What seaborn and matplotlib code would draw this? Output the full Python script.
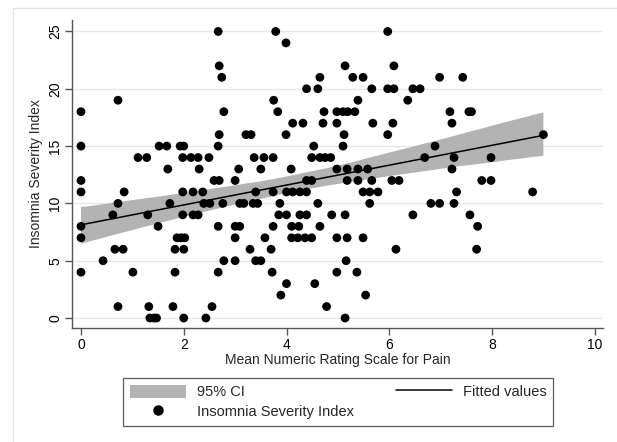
import numpy as np
import pandas as pd
import matplotlib
matplotlib.use("Agg")
import matplotlib.pyplot as plt
import seaborn as sns
from matplotlib.patches import Patch
from matplotlib.lines import Line2D

# ISI value -> list of mean NRS values
isi_levels = [25, 24, 22, 21, 20, 19, 18, 17, 16, 15, 14, 13, 12, 11, 10, 9, 8, 7, 6, 5, 4, 3, 2, 1, 0]
nrs_25 = [2.67, 3.79, 5.97]
nrs_24 = [3.99]
nrs_22 = [2.69, 5.14, 6.09]
nrs_21 = [2.74, 4.65, 5.29, 5.49, 6.98, 7.43]
nrs_20 = [4.39, 4.61, 5.66, 5.97, 6.09, 6.46, 6.6]
nrs_19 = [0.72, 3.75, 5.39, 6.36]
nrs_18 = [0.0, 2.78, 3.83, 4.73, 4.98, 5.10, 5.19, 5.33, 7.18, 7.55, 7.6]
nrs_17 = [4.12, 4.32, 4.71, 4.98, 5.68, 6.07, 7.22]
nrs_16 = [2.69, 3.21, 3.31, 3.99, 5.12, 5.97, 9.0]
nrs_15 = [0.0, 1.52, 1.67, 1.93, 2.0, 2.67, 4.53, 5.1, 6.89]
nrs_14 = [1.11, 1.28, 1.98, 2.14, 2.28, 2.49, 3.37, 3.56, 3.74, 4.49, 4.65, 4.75, 4.86, 6.69, 7.26, 7.98]
nrs_13 = [1.69, 2.3, 3.07, 3.5, 4.09, 4.98, 5.18, 5.39, 5.58, 7.22]
nrs_12 = [0.0, 2.59, 2.69, 3.0, 4.39, 4.49, 5.18, 5.39, 5.66, 6.05, 6.19, 7.8, 7.98]
nrs_11 = [0.0, 0.84, 1.98, 2.18, 2.37, 3.4, 3.74, 4.0, 4.12, 4.26, 4.39, 5.49, 5.62, 5.78, 7.31, 8.79]
nrs_10 = [0.72, 1.73, 2.39, 2.51, 2.76, 3.09, 3.17, 3.35, 3.44, 3.87, 4.61, 5.62, 6.81, 6.98, 7.26]
nrs_9 = [0.62, 1.3, 1.98, 2.18, 2.28, 3.85, 4.0, 4.26, 4.39, 4.88, 5.14, 6.46, 7.57]
nrs_8 = [0.0, 1.5, 2.67, 3.0, 3.09, 3.74, 4.1, 4.24, 4.65, 7.72]
nrs_7 = [0.0, 1.87, 1.95, 2.02, 3.0, 3.58, 4.1, 4.22, 4.36, 4.49, 4.98, 5.18, 5.49]
nrs_6 = [0.66, 0.82, 1.83, 2.0, 3.29, 3.7, 6.13, 7.7]
nrs_5 = [0.43, 2.78, 3.0, 3.4, 3.5, 5.16]
nrs_4 = [0.0, 1.01, 1.83, 2.67, 3.72, 4.98, 5.37]
nrs_3 = [4.0, 4.55]
nrs_2 = [3.89, 5.54]
nrs_1 = [0.72, 1.32, 1.79, 2.55, 4.78]
nrs_0 = [1.34, 1.42, 1.47, 2.0, 2.43, 5.14]

nrs_by_level = [nrs_25, nrs_24, nrs_22, nrs_21, nrs_20, nrs_19, nrs_18, nrs_17, nrs_16,
                nrs_15, nrs_14, nrs_13, nrs_12, nrs_11, nrs_10, nrs_9, nrs_8, nrs_7,
                nrs_6, nrs_5, nrs_4, nrs_3, nrs_2, nrs_1, nrs_0]

x_ticks = [0, 2, 4, 6, 8, 10]
y_ticks = [0, 5, 10, 15, 20, 25]

rows = []
for lvl, xs in zip(isi_levels, nrs_by_level):
    for xv in xs:
        rows.append((xv, lvl))
df = pd.DataFrame(rows, columns=["nrs", "isi"])

sns.set_theme(style="white")
plt.rcParams['font.family'] = ['Liberation Sans', 'DejaVu Sans']

fig = plt.figure(figsize=(6.17, 4.42), dpi=100)

# faint outer frame of the graph region (only left and top edges are visible)
fx, fy = 12.5/617, 1 - 8/442
fig.lines.append(Line2D([fx, fx], [0, fy], transform=fig.transFigure,
                        color="#e2e2e2", lw=1, zorder=0))
fig.lines.append(Line2D([fx, 1], [fy, fy], transform=fig.transFigure,
                        color="#e2e2e2", lw=1, zorder=0))

ax = fig.add_axes([72/617, 1-328/442, (603-72)/617, (328-20)/442])

sns.regplot(data=df, x="nrs", y="isi", ax=ax, ci=95, n_boot=2000, seed=3,
            scatter_kws=dict(s=40, color="black", edgecolor="none", alpha=1, zorder=3),
            line_kws=dict(color="black", lw=1.1, zorder=2))

band_color = "#b3b3b3"
for coll in ax.collections:
    if isinstance(coll, matplotlib.collections.PolyCollection):
        coll.set_facecolor(band_color)
        coll.set_alpha(1)
        coll.set_edgecolor("none")
        coll.set_zorder(1)

ax.set_xlim(-0.175, 10.16)
ax.set_ylim(-0.87, 26.0)
ax.set_xticks(x_ticks)
ax.set_yticks(y_ticks)
ax.set_xticklabels([str(t) for t in x_ticks], fontsize=10)
ax.set_yticklabels([str(t) for t in y_ticks], fontsize=10, rotation=90, va="center")
ax.set_xlabel("Mean Numeric Rating Scale for Pain", fontsize=10, labelpad=1)
ax.set_ylabel("Insomnia Severity Index", fontsize=10, labelpad=4)
ax.yaxis.grid(True, color="#e8e8e8", lw=1)
ax.set_axisbelow(True)
for s in ["top", "right"]:
    ax.spines[s].set_visible(False)
for s in ["left", "bottom"]:
    ax.spines[s].set_color("#555555")
    ax.spines[s].set_linewidth(1)
ax.tick_params(axis="both", which="both", direction="out", length=5, width=1,
               color="#555555", labelcolor="black", bottom=True, left=True, pad=2)

handles = [Patch(facecolor=band_color, edgecolor="none"),
           Line2D([], [], marker="o", color="black", ls="none", markersize=6.5),
           Line2D([], [], color="black", lw=1.1)]
labels = ["95% CI", "Insomnia Severity Index", "Fitted values"]
leg = fig.legend(handles, labels, ncol=2, loc="upper left",
                 bbox_to_anchor=(123/617, 1-378/442, 430/617, 0.0), mode="expand",
                 frameon=True, fancybox=False, edgecolor="#333333", fontsize=10.5,
                 handlelength=3.9, handleheight=1.0, handletextpad=0.7,
                 labelspacing=0.37, borderpad=0.45, borderaxespad=0,
                 columnspacing=2)
leg.get_frame().set_linewidth(0.9)

fig.savefig("out.png", dpi=100, facecolor="white")
